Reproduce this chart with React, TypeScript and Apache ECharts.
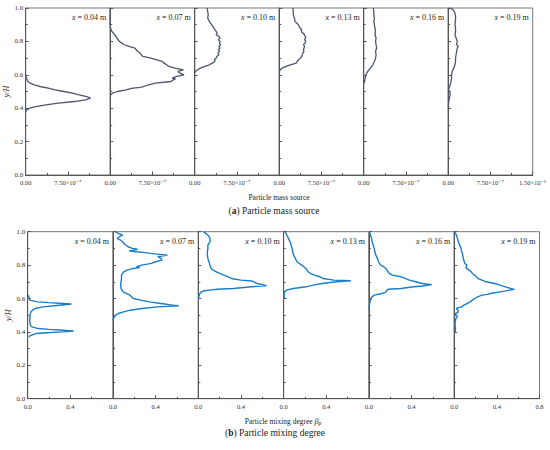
import React, { useEffect, useRef } from "react";
import * as echarts from "echarts";

const SERIF = "'Liberation Serif', 'Times New Roman', 'DejaVu Serif', serif";

const panelPositions = ["0.04", "0.07", "0.10", "0.13", "0.16", "0.19"];

// Particle mass source, values in units of 1e-7, pairs [value, y/H]
const massTicks = [0, 7.5, 15];
const massTickLabels = ["0.00", "7.50×10⁻⁷", "1.50×10⁻⁶"];

const mass004: [number, number][] = [
  [0, 0.6], [0.1, 0.58], [0.4, 0.56], [0.8, 0.55], [1.5, 0.54], [2.5, 0.53], [4.0, 0.52],
  [5.2, 0.51], [6.8, 0.5], [8.3, 0.49], [9.5, 0.48], [10.8, 0.47], [11.5, 0.46], [10.6, 0.45],
  [8.6, 0.44], [5.8, 0.43], [3.6, 0.42], [1.8, 0.41], [0.7, 0.4], [0.2, 0.39], [0, 0.38],
];
const mass007: [number, number][] = [
  [0, 1.0], [0, 0.9], [0.05, 0.88], [0.3, 0.86], [0.8, 0.84], [1.2, 0.82], [1.6, 0.8],
  [2.5, 0.78], [3.3, 0.77], [4.4, 0.76], [4.6, 0.75], [4.9, 0.74], [5.3, 0.73], [5.5, 0.72],
  [5.8, 0.71], [7.2, 0.7], [8.3, 0.69], [9.2, 0.68], [9.6, 0.67], [10.0, 0.66], [10.4, 0.65],
  [11.5, 0.64], [13.0, 0.63], [12.0, 0.62], [12.4, 0.61], [13.1, 0.6], [11.8, 0.59],
  [11.0, 0.58], [11.6, 0.575], [11.2, 0.57], [10.8, 0.56], [8.0, 0.55], [6.8, 0.54],
  [6.0, 0.53], [5.4, 0.525], [4.0, 0.52], [2.8, 0.51], [1.3, 0.5], [0.4, 0.49], [0.1, 0.48],
];
const mass010: [number, number][] = [
  [2.2, 1.0], [2.3, 0.98], [2.4, 0.96], [2.3, 0.94], [2.6, 0.92], [3.0, 0.9], [3.4, 0.88],
  [3.8, 0.86], [4.0, 0.85], [3.8, 0.84], [4.3, 0.83], [4.5, 0.82], [4.2, 0.81], [4.5, 0.8],
  [4.4, 0.79], [4.6, 0.78], [4.3, 0.77], [4.5, 0.76], [4.2, 0.75], [4.4, 0.74], [4.1, 0.73],
  [4.3, 0.72], [3.9, 0.71], [3.8, 0.7], [3.5, 0.69], [3.6, 0.68], [3.1, 0.67], [2.6, 0.66],
  [1.8, 0.65], [1.0, 0.64], [0.5, 0.63], [0.1, 0.62], [0, 0.61],
];
const mass013: [number, number][] = [
  [2.4, 1.0], [2.5, 0.98], [2.5, 0.96], [2.7, 0.94], [2.8, 0.92], [3.4, 0.9], [3.7, 0.88],
  [4.0, 0.87], [3.9, 0.86], [4.2, 0.85], [4.5, 0.84], [4.6, 0.83], [4.7, 0.82], [4.5, 0.81],
  [4.7, 0.8], [4.6, 0.79], [4.3, 0.78], [4.5, 0.77], [4.4, 0.76], [4.3, 0.75], [4.4, 0.74],
  [4.2, 0.73], [4.1, 0.72], [4.0, 0.71], [3.8, 0.7], [3.4, 0.69], [3.2, 0.68], [3.0, 0.67],
  [2.0, 0.66], [1.2, 0.65], [0.5, 0.64], [0.2, 0.63], [0, 0.62],
];
const mass016: [number, number][] = [
  [1.7, 1.0], [1.8, 0.98], [1.8, 0.96], [1.9, 0.94], [1.8, 0.92], [1.9, 0.9], [2.0, 0.88],
  [2.1, 0.86], [2.0, 0.84], [2.2, 0.82], [2.1, 0.8], [2.2, 0.78], [2.3, 0.76], [2.1, 0.74],
  [2.2, 0.72], [2.1, 0.7], [1.9, 0.68], [1.6, 0.66], [1.2, 0.64], [0.7, 0.62], [0.4, 0.6],
  [0.25, 0.58], [0.15, 0.56], [0.1, 0.55],
];
const mass019: [number, number][] = [
  [0.3, 1.0], [0.9, 0.99], [1.2, 0.97], [1.3, 0.95], [1.3, 0.93], [1.2, 0.9], [1.3, 0.88],
  [1.3, 0.86], [1.2, 0.84], [1.4, 0.82], [1.6, 0.8], [1.5, 0.78], [1.8, 0.77], [1.6, 0.76],
  [1.5, 0.74], [1.4, 0.72], [1.3, 0.7], [1.3, 0.68], [1.2, 0.66], [1.0, 0.64], [0.7, 0.62],
  [0.6, 0.6], [0.6, 0.58], [0.5, 0.56], [0.35, 0.54], [0.15, 0.52], [0.05, 0.51], [0.3, 0.5],
  [0.35, 0.48], [0.2, 0.46], [0.1, 0.44], [0.05, 0.42], [0.05, 0.4],
];

// Particle mixing degree, pairs [beta_p, y/H]
const mixTicks = [0, 0.4, 0.8];
const mix004: [number, number][] = [
  [0.005, 0.62], [0.012, 0.61], [0.015, 0.6], [0.02, 0.59], [0.09, 0.58], [0.2, 0.575],
  [0.33, 0.57], [0.41, 0.567], [0.3, 0.56], [0.14, 0.55], [0.07, 0.54], [0.045, 0.53],
  [0.03, 0.52], [0.022, 0.5], [0.02, 0.48], [0.02, 0.46], [0.025, 0.44], [0.04, 0.43],
  [0.1, 0.42], [0.2, 0.415], [0.33, 0.41], [0.43, 0.405], [0.33, 0.4], [0.18, 0.395],
  [0.08, 0.39], [0.03, 0.38], [0.01, 0.37],
];
const mix007: [number, number][] = [
  [0.02, 1.0], [0.05, 0.99], [0.09, 0.98], [0.06, 0.97], [0.04, 0.96], [0.07, 0.95],
  [0.09, 0.94], [0.1, 0.93], [0.12, 0.92], [0.14, 0.91], [0.18, 0.9], [0.23, 0.895],
  [0.2, 0.89], [0.15, 0.885], [0.22, 0.88], [0.3, 0.875], [0.35, 0.87], [0.51, 0.86],
  [0.42, 0.85], [0.45, 0.84], [0.46, 0.83], [0.4, 0.82], [0.36, 0.81], [0.27, 0.8],
  [0.22, 0.79], [0.25, 0.785], [0.19, 0.78], [0.13, 0.77], [0.1, 0.76], [0.09, 0.75],
  [0.08, 0.74], [0.08, 0.72], [0.075, 0.7], [0.072, 0.68], [0.075, 0.66], [0.095, 0.64],
  [0.16, 0.62], [0.19, 0.6], [0.26, 0.59], [0.34, 0.58], [0.45, 0.57], [0.56, 0.56],
  [0.615, 0.557], [0.42, 0.55], [0.27, 0.54], [0.16, 0.53], [0.1, 0.52], [0.05, 0.51],
  [0.025, 0.5], [0.012, 0.49], [0.005, 0.48], [0, 0.47],
];
const mix010: [number, number][] = [
  [0.05, 1.0], [0.07, 0.99], [0.09, 0.98], [0.1, 0.97], [0.11, 0.96], [0.11, 0.95],
  [0.11, 0.94], [0.1, 0.93], [0.09, 0.92], [0.09, 0.9], [0.085, 0.88], [0.085, 0.86],
  [0.09, 0.84], [0.1, 0.82], [0.11, 0.8], [0.12, 0.78], [0.14, 0.77], [0.17, 0.76],
  [0.2, 0.75], [0.24, 0.74], [0.28, 0.73], [0.31, 0.72], [0.4, 0.71], [0.5, 0.705],
  [0.52, 0.7], [0.55, 0.69], [0.62, 0.68], [0.64, 0.677], [0.5, 0.67], [0.33, 0.66],
  [0.18, 0.655], [0.1, 0.65], [0.05, 0.645], [0.03, 0.64], [0.015, 0.63], [0.01, 0.62],
  [0.005, 0.61], [0, 0.6],
];
const mix013: [number, number][] = [
  [0.015, 1.0], [0.03, 0.98], [0.045, 0.96], [0.06, 0.94], [0.07, 0.92], [0.08, 0.9],
  [0.085, 0.88], [0.095, 0.86], [0.11, 0.84], [0.125, 0.82], [0.17, 0.8], [0.19, 0.79],
  [0.21, 0.78], [0.22, 0.77], [0.23, 0.76], [0.25, 0.75], [0.29, 0.74], [0.34, 0.73],
  [0.37, 0.72], [0.47, 0.71], [0.63, 0.706], [0.5, 0.7], [0.36, 0.69], [0.28, 0.68],
  [0.21, 0.67], [0.09, 0.66], [0.025, 0.65], [0.01, 0.64], [0.005, 0.63], [0.005, 0.6],
];
const mix016: [number, number][] = [
  [0.005, 1.0], [0.015, 0.98], [0.025, 0.96], [0.03, 0.94], [0.04, 0.92], [0.05, 0.9],
  [0.055, 0.88], [0.065, 0.86], [0.08, 0.84], [0.09, 0.82], [0.11, 0.8], [0.14, 0.79],
  [0.16, 0.78], [0.17, 0.77], [0.18, 0.76], [0.19, 0.75], [0.22, 0.74], [0.3, 0.73],
  [0.34, 0.72], [0.38, 0.71], [0.44, 0.7], [0.5, 0.69], [0.59, 0.683], [0.5, 0.675],
  [0.42, 0.67], [0.3, 0.66], [0.18, 0.655], [0.17, 0.65], [0.16, 0.64], [0.15, 0.635],
  [0.12, 0.63], [0.05, 0.62], [0.03, 0.61], [0.02, 0.6], [0.01, 0.58], [0.005, 0.56],
  [0, 0.54],
];
const mix019: [number, number][] = [
  [0.005, 1.0], [0.02, 0.98], [0.03, 0.96], [0.04, 0.94], [0.05, 0.92], [0.065, 0.9],
  [0.07, 0.88], [0.08, 0.86], [0.085, 0.84], [0.095, 0.82], [0.1, 0.81], [0.12, 0.8],
  [0.11, 0.79], [0.115, 0.78], [0.14, 0.77], [0.16, 0.76], [0.17, 0.75], [0.19, 0.74],
  [0.21, 0.73], [0.22, 0.72], [0.26, 0.71], [0.3, 0.7], [0.38, 0.69], [0.43, 0.68],
  [0.48, 0.67], [0.53, 0.66], [0.565, 0.655], [0.52, 0.65], [0.43, 0.64], [0.34, 0.63],
  [0.31, 0.625], [0.26, 0.62], [0.22, 0.61], [0.19, 0.6], [0.17, 0.59], [0.15, 0.58],
  [0.12, 0.57], [0.09, 0.56], [0.07, 0.55], [0.04, 0.545], [0.02, 0.54], [0.035, 0.53],
  [0.04, 0.52], [0.01, 0.51], [0.02, 0.5], [0.03, 0.49], [0.015, 0.48], [0.01, 0.46],
  [0.008, 0.44], [0.012, 0.42], [0.01, 0.4],
];

const massSeries = [mass004, mass007, mass010, mass013, mass016, mass019];
const mixSeries = [mix004, mix007, mix010, mix013, mix016, mix019];

const yTicks = [0, 0.2, 0.4, 0.6, 0.8, 1.0];

export default function App() {
  const ref = useRef<HTMLDivElement>(null);

  useEffect(() => {
    if (!ref.current) return;
    const chart = echarts.init(ref.current, null, { renderer: "svg" });

    const axisColor = "#555";
    const topLeft0 = 25.7;
    const topW = 84.5;
    const topTop = 8;
    const botLeft0 = 27.7;
    const botW = 85.3;
    const botTop = 231.7;
    const plotH = 167;

    const grids: any[] = [];
    const xAxes: any[] = [];
    const yAxes: any[] = [];
    const series: any[] = [];
    const graphics: any[] = [];

    const makeY = (gi: number, first: boolean) => ({
      type: "value",
      gridIndex: gi,
      min: yTicks[0],
      max: yTicks[yTicks.length - 1],
      interval: 0.2,
      axisLine: { show: true, lineStyle: { color: axisColor, width: 1 } },
      axisTick: { show: true, inside: true, length: 3, lineStyle: { color: axisColor } },
      minorTick: { show: true, splitNumber: 2, length: 2, lineStyle: { color: axisColor } },
      splitLine: { show: false },
      axisLabel: {
        show: first,
        fontSize: 7,
        color: "#333",
        fontFamily: SERIF,
        margin: 2.5,
        formatter: (v: number) => v.toFixed(1),
      },
      name: first ? "y/H" : "",
      nameLocation: "middle",
      nameGap: 13,
      nameRotate: 90,
      nameTextStyle: { fontStyle: "italic", fontSize: 8, fontFamily: SERIF, color: "#222" },
    });

    for (let i = 0; i < 6; i++) {
      // top chart
      grids.push({
        left: topLeft0 + i * topW,
        top: topTop,
        width: topW,
        height: plotH,
        show: true,
        borderColor: "#777",
        borderWidth: 1,
        backgroundColor: "transparent",
      });
      xAxes.push({
        type: "value",
        gridIndex: i,
        min: massTicks[0],
        max: massTicks[2],
        interval: massTicks[1],
        axisLine: { show: true, lineStyle: { color: axisColor, width: 1 } },
        axisTick: { show: true, inside: true, length: 3.5, lineStyle: { color: axisColor } },
        minorTick: { show: true, splitNumber: 2, length: 2, lineStyle: { color: axisColor } },
        splitLine: { show: false },
        axisLabel: {
          fontSize: 6.5,
          color: "#333",
          fontFamily: SERIF,
          margin: 4,
          showMinLabel: true,
          showMaxLabel: i === 5,
          formatter: (v: number) => {
            const idx = massTicks.findIndex((t) => Math.abs(t - v) < 1e-6);
            return idx >= 0 ? massTickLabels[idx] : "";
          },
        },
      });
      yAxes.push(makeY(i, i === 0));
      series.push({
        type: "line",
        xAxisIndex: i,
        yAxisIndex: i,
        data: massSeries[i],
        showSymbol: false,
        symbol: "none",
        lineStyle: { color: "#4f556e", width: 1.3 },
        silent: true,
      });
      graphics.push({
        type: "text",
        x: topLeft0 + (i + 1) * topW - 4,
        y: 17.5,
        style: {
          text: "{i|x} = " + panelPositions[i] + " m",
          align: "right",
          verticalAlign: "middle",
          fontSize: 8,
          fontFamily: SERIF,
          fill: "#222",
          rich: { i: { fontStyle: "italic", fontSize: 8, fontFamily: SERIF, fill: "#222" } },
        },
      });
    }

    for (let i = 0; i < 6; i++) {
      const gi = 6 + i;
      grids.push({
        left: botLeft0 + i * botW,
        top: botTop,
        width: botW,
        height: plotH,
        show: true,
        borderColor: "#777",
        borderWidth: 1,
        backgroundColor: "transparent",
      });
      xAxes.push({
        type: "value",
        gridIndex: gi,
        min: mixTicks[0],
        max: mixTicks[2],
        interval: mixTicks[1],
        axisLine: { show: true, lineStyle: { color: axisColor, width: 1 } },
        axisTick: { show: true, inside: true, length: 3.5, lineStyle: { color: axisColor } },
        minorTick: { show: true, splitNumber: 2, length: 2, lineStyle: { color: axisColor } },
        splitLine: { show: false },
        axisLabel: {
          fontSize: 6.5,
          color: "#333",
          fontFamily: SERIF,
          margin: 4,
          showMinLabel: true,
          showMaxLabel: i === 5,
          formatter: (v: number) => v.toFixed(1),
        },
      });
      yAxes.push(makeY(gi, i === 0));
      series.push({
        type: "line",
        xAxisIndex: gi,
        yAxisIndex: gi,
        data: mixSeries[i],
        showSymbol: false,
        symbol: "none",
        lineStyle: { color: "#1b7dc5", width: 1.4 },
        silent: true,
      });
      graphics.push({
        type: "text",
        x: botLeft0 + (i + 1) * botW - 4,
        y: 241.5,
        style: {
          text: "{i|x} = " + panelPositions[i] + " m",
          align: "right",
          verticalAlign: "middle",
          fontSize: 8,
          fontFamily: SERIF,
          fill: "#222",
          rich: { i: { fontStyle: "italic", fontSize: 8, fontFamily: SERIF, fill: "#222" } },
        },
      });
    }

    graphics.push(
      {
        type: "text",
        x: 279,
        y: 197.5,
        style: {
          text: "Particle mass source",
          align: "center",
          verticalAlign: "middle",
          fontSize: 7.5,
          fontFamily: SERIF,
          fill: "#222",
        },
      },
      {
        type: "text",
        x: 274,
        y: 211,
        style: {
          text: "({b|a}) Particle mass source",
          align: "center",
          verticalAlign: "middle",
          fontSize: 9.5,
          fontFamily: SERIF,
          fill: "#222",
          rich: { b: { fontWeight: "bold", fontSize: 9.5, fontFamily: SERIF, fill: "#222" } },
        },
      },
      {
        type: "text",
        x: 283,
        y: 421,
        style: {
          text: "Particle mixing degree {i|β}{s|p}",
          align: "center",
          verticalAlign: "middle",
          fontSize: 7.5,
          fontFamily: SERIF,
          fill: "#222",
          rich: {
            i: { fontStyle: "italic", fontSize: 8, fontFamily: SERIF, fill: "#222" },
            s: {
              fontStyle: "italic",
              fontSize: 5.5,
              fontFamily: SERIF,
              fill: "#222",
              padding: [4, 0, 0, 0],
            },
          },
        },
      },
      {
        type: "text",
        x: 275,
        y: 433,
        style: {
          text: "({b|b}) Particle mixing degree",
          align: "center",
          verticalAlign: "middle",
          fontSize: 9.5,
          fontFamily: SERIF,
          fill: "#222",
          rich: { b: { fontWeight: "bold", fontSize: 9.5, fontFamily: SERIF, fill: "#222" } },
        },
      }
    );

    chart.setOption({
      animation: false,
      backgroundColor: "#ffffff",
      grid: grids,
      xAxis: xAxes,
      yAxis: yAxes,
      series,
      graphic: graphics,
    });

    return () => chart.dispose();
  }, []);

  return (
    <div
      ref={ref}
      style={{ position: "absolute", left: 0, top: 0, width: 550, height: 450 }}
    />
  );
}
